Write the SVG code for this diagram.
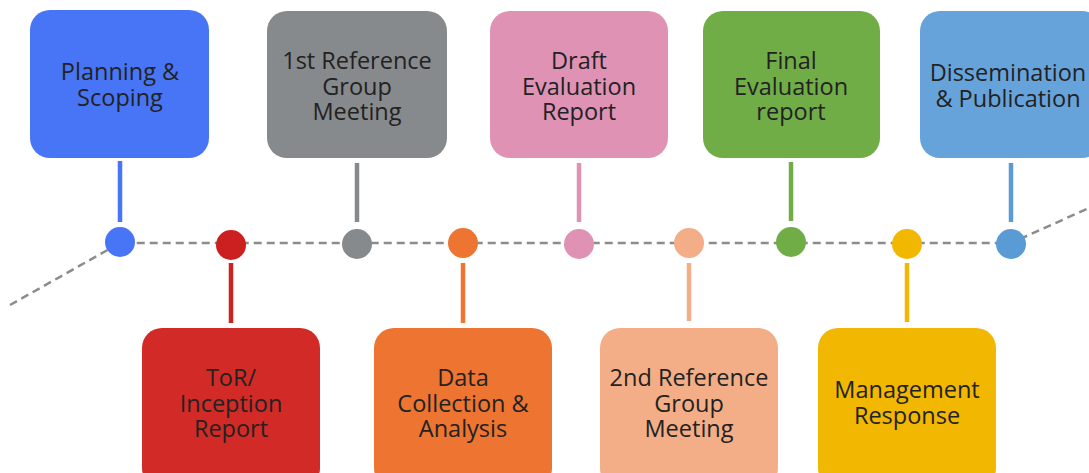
<svg xmlns="http://www.w3.org/2000/svg" width="1089" height="473" viewBox="0 0 1089 473">
  <style>
    .box { stroke: none; }
    .lbl { font-family: "Open Sans", "Noto Sans", "Liberation Sans", sans-serif; font-size: 23.5px; fill: #222222; text-anchor: middle; }
    .stem { stroke-width: 4.5; fill: none; }
    .timeline { stroke: #8c8c8c; stroke-width: 2.5; stroke-dasharray: 8 5; fill: none; }
  </style>
  <rect width="1089" height="473" fill="#ffffff"/>

  <!-- timeline and stems -->
  <g id="connectors">
    <polyline class="timeline" points="10,305 120,243 1011,243 1089,208"/>
    <line class="stem" x1="120" y1="161" x2="120" y2="222" stroke="#4775F5"/>
    <line class="stem" x1="357" y1="163" x2="357" y2="222" stroke="#878A8C"/>
    <line class="stem" x1="579" y1="163" x2="579" y2="222" stroke="#E092B5"/>
    <line class="stem" x1="791" y1="162" x2="791" y2="221" stroke="#70AD47"/>
    <line class="stem" x1="1011" y1="163" x2="1011" y2="222" stroke="#5B9BD5"/>
    <line class="stem" x1="231" y1="263" x2="231" y2="323" stroke="#CC2220"/>
    <line class="stem" x1="463" y1="263" x2="463" y2="323" stroke="#ED7431"/>
    <line class="stem" x1="689" y1="263" x2="689" y2="321" stroke="#F4AE87"/>
    <line class="stem" x1="907" y1="263" x2="907" y2="322" stroke="#F2B700"/>
  </g>

  <!-- milestone dots -->
  <g id="dots">
    <circle cx="120" cy="242" r="15" fill="#4775F5"/>
    <circle cx="231" cy="245" r="15" fill="#CC1F1F"/>
    <circle cx="357" cy="244" r="15" fill="#878A8C"/>
    <circle cx="463" cy="243" r="15" fill="#ED7431"/>
    <circle cx="579" cy="244" r="15" fill="#E092B5"/>
    <circle cx="689" cy="243" r="15" fill="#F4AE87"/>
    <circle cx="791" cy="242" r="15" fill="#70AD47"/>
    <circle cx="907" cy="244" r="15" fill="#F2B700"/>
    <circle cx="1011" cy="244" r="15" fill="#5B9BD5"/>
  </g>

  <g id="planning">
    <rect class="box" x="30" y="10" width="179" height="148" rx="20" fill="#4775F5"/>
    <text class="lbl" x="120" y="80">Planning &amp;<tspan x="120" dy="25.5">Scoping</tspan></text>
  </g>

  <g id="ref1">
    <rect class="box" x="267" y="11" width="180" height="147" rx="20" fill="#878A8C"/>
    <text class="lbl" x="357" y="69">1st Reference<tspan x="357" dy="25.5">Group</tspan><tspan x="357" dy="25.5">Meeting</tspan></text>
  </g>

  <g id="draft">
    <rect class="box" x="490" y="11" width="178" height="147" rx="20" fill="#E092B5"/>
    <text class="lbl" x="579" y="69">Draft<tspan x="579" dy="25.5">Evaluation</tspan><tspan x="579" dy="25.5">Report</tspan></text>
  </g>

  <g id="final">
    <rect class="box" x="703" y="11" width="177" height="147" rx="20" fill="#70AD47"/>
    <text class="lbl" x="791" y="69">Final<tspan x="791" dy="25.5">Evaluation</tspan><tspan x="791" dy="25.5">report</tspan></text>
  </g>

  <g id="dissemination">
    <rect class="box" x="920" y="11" width="182" height="147" rx="20" fill="#67A3DB"/>
    <text class="lbl" x="1008" y="81">Dissemination<tspan x="1008" dy="25.5">&amp; Publication</tspan></text>
  </g>

  <g id="tor">
    <rect class="box" x="142" y="328" width="178" height="160" rx="20" fill="#D22A26"/>
    <text class="lbl" x="231" y="386">ToR/<tspan x="231" dy="25.5">Inception</tspan><tspan x="231" dy="25.5">Report</tspan></text>
  </g>

  <g id="data">
    <rect class="box" x="374" y="328" width="178" height="160" rx="20" fill="#ED7431"/>
    <text class="lbl" x="463" y="386">Data<tspan x="463" dy="25.5">Collection &amp;</tspan><tspan x="463" dy="25.5">Analysis</tspan></text>
  </g>

  <g id="ref2">
    <rect class="box" x="600" y="328" width="178" height="160" rx="20" fill="#F4AE87"/>
    <text class="lbl" x="689" y="386">2nd Reference<tspan x="689" dy="25.5">Group</tspan><tspan x="689" dy="25.5">Meeting</tspan></text>
  </g>

  <g id="management">
    <rect class="box" x="818" y="328" width="178" height="160" rx="20" fill="#F2B700"/>
    <text class="lbl" x="907" y="398">Management<tspan x="907" dy="25.5">Response</tspan></text>
  </g>
</svg>
